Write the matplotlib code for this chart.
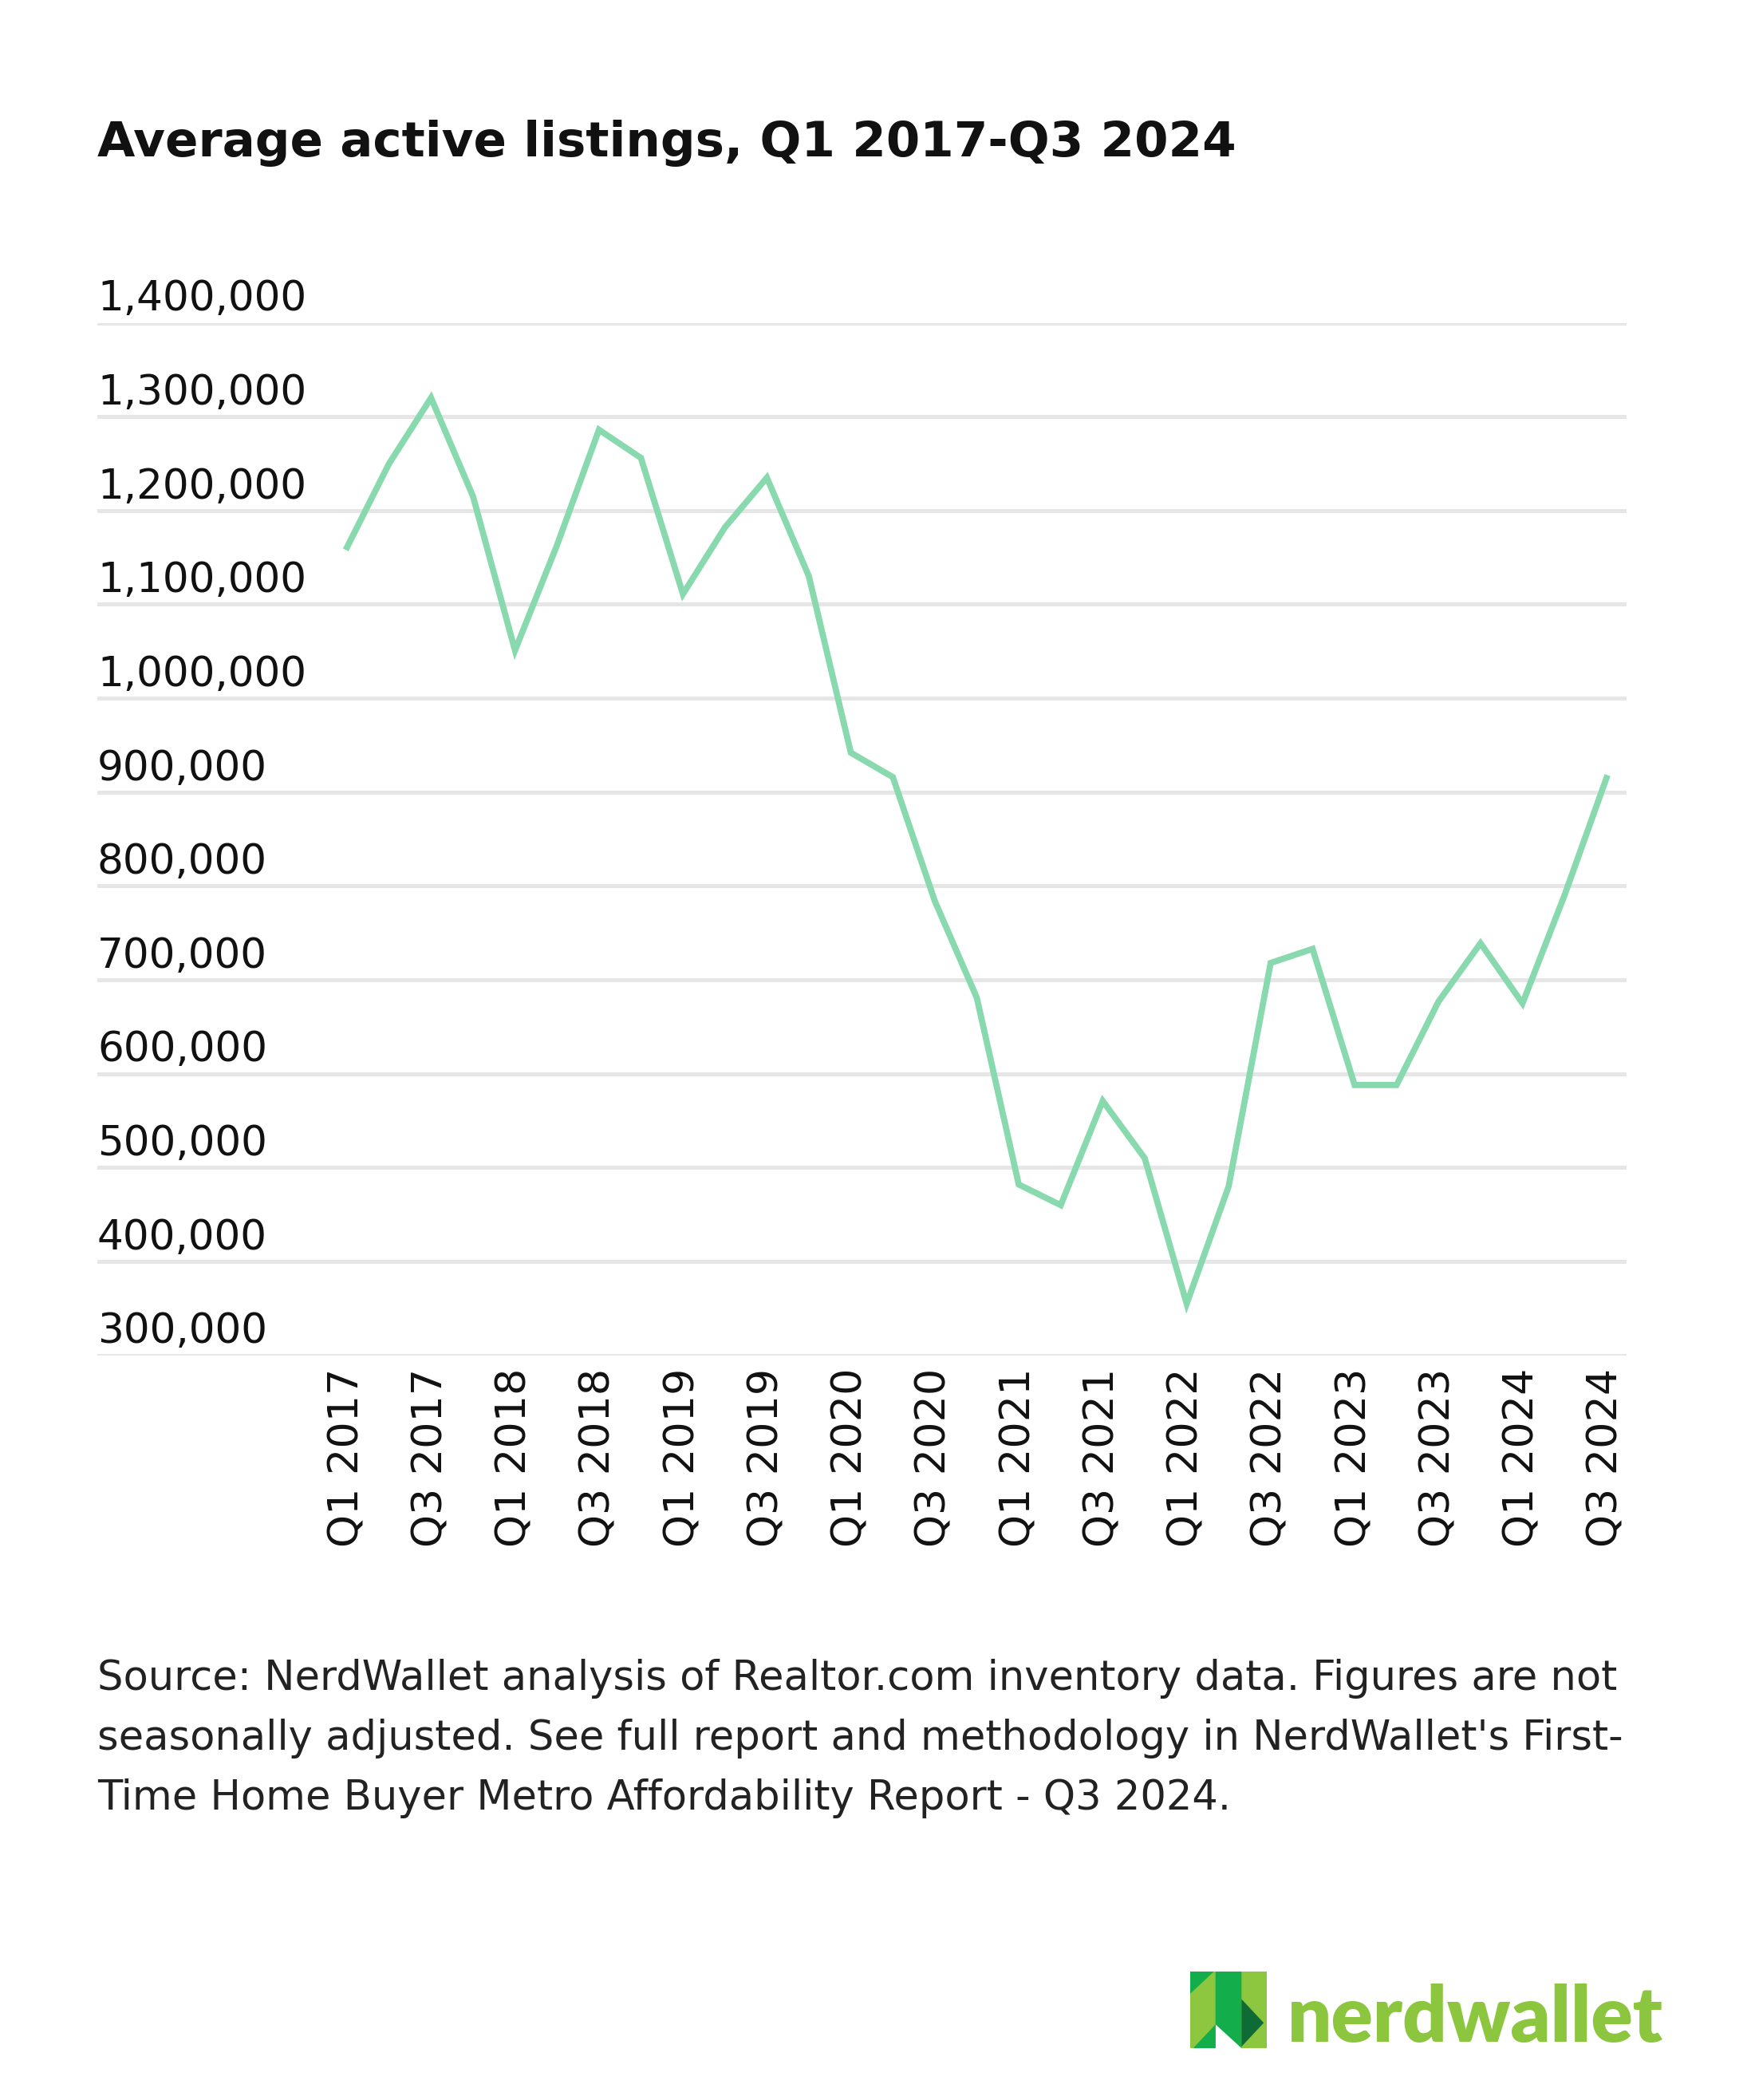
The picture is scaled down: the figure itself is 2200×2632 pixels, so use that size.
# plot.py - average active listings line chart
import matplotlib.pyplot as plt
from matplotlib.patches import Polygon
from matplotlib.transforms import blended_transform_factory

quarters = [
    "Q1 2017", "Q2 2017", "Q3 2017", "Q4 2017",
    "Q1 2018", "Q2 2018", "Q3 2018", "Q4 2018",
    "Q1 2019", "Q2 2019", "Q3 2019", "Q4 2019",
    "Q1 2020", "Q2 2020", "Q3 2020", "Q4 2020",
    "Q1 2021", "Q2 2021", "Q3 2021", "Q4 2021",
    "Q1 2022", "Q2 2022", "Q3 2022", "Q4 2022",
    "Q1 2023", "Q2 2023", "Q3 2023", "Q4 2023",
    "Q1 2024", "Q2 2024", "Q3 2024",
]
listings = [
    1161000, 1250000, 1320000, 1215000,
    1051000, 1163000, 1286000, 1256000,
    1111000, 1182000, 1235000, 1130000,
    942000, 916000, 784000, 681000,
    482000, 460000, 571000, 510000,
    355000, 480000, 718000, 733000,
    588000, 588000, 677000, 739000,
    675000, 790000, 915000,
]
y_ticks = [300000, 400000, 500000, 600000, 700000, 800000, 900000,
           1000000, 1100000, 1200000, 1300000, 1400000]

title = "Average active listings, Q1 2017-Q3 2024"
source_lines = [
    "Source: NerdWallet analysis of Realtor.com inventory data. Figures are not",
    "seasonally adjusted. See full report and methodology in NerdWallet's First-",
    "Time Home Buyer Metro Affordability Report - Q3 2024.",
]

LINE = "#88d9ad"
GRID = "#e6e6e6"
FONT = "DejaVu Sans"

fig = plt.figure(figsize=(11, 13.16), dpi=200)
ax = fig.add_axes([0.05545, 0.3546, 0.8714, 0.4917])

x = list(range(len(quarters)))
ax.plot(x, listings, color=LINE, linewidth=2.8, solid_joinstyle="miter", zorder=3)

ax.set_xlim(-5.95, 30.48)
ax.set_ylim(300000, 1400000)

# horizontal gridlines with the labels sitting on top of them
ax.set_yticks(y_ticks)
ax.set_yticklabels([])
ax.grid(axis="y", color=GRID, linewidth=1.8)
ax.set_axisbelow(True)
trans = blended_transform_factory(ax.transAxes, ax.transData)
for v in y_ticks:
    ax.annotate(f"{v:,}", xy=(0, v), xycoords=trans, xytext=(0, 5.5),
                textcoords="offset points", ha="left", va="baseline",
                fontsize=18.6, family=FONT, color="#111111", annotation_clip=False)

ax.set_xticks(x[::2])
ax.set_xticklabels(quarters[::2], rotation=90, va="top", ha="center",
                   fontsize=18.8, family=FONT, color="#111111")
ax.tick_params(axis="both", length=0)
ax.tick_params(axis="x", pad=5.8)
for s in ax.spines.values():
    s.set_visible(False)

fig.text(0.0555, 0.9255, title, fontsize=22, fontweight="bold", family=FONT,
         color="#111111", va="baseline", ha="left")

for i, line in enumerate(source_lines):
    fig.text(0.0555, 1 - (2118 + 75 * i) / 2632, line, fontsize=18.4, family=FONT,
             color="#222222", va="baseline", ha="left")

# nerdwallet logo
lax = fig.add_axes([1492 / 2200, 1 - 2567 / 2632, 96 / 2200, 96 / 2632])
lax.set_xlim(0, 1)
lax.set_ylim(1, 0)
lax.axis("off")
light, mid, dark = "#8dc63f", "#13ad4b", "#0f6b35"
shapes = [
    ([(0, 0), (0.33, 0), (0.33, 1), (0, 1)], light),
    ([(0.67, 0), (1, 0), (1, 1), (0.67, 1)], light),
    ([(0.33, 0), (0.67, 0), (0.67, 1), (0.33, 0.69)], mid),
    ([(0, 0), (0.31, 0), (0, 0.29)], mid),
    ([(0.04, 1), (0.33, 0.69), (0.33, 1)], mid),
    ([(0.67, 0.36), (0.96, 0.67), (0.67, 0.98)], dark),
]
for pts, c in shapes:
    lax.add_patch(Polygon(pts, closed=True, facecolor=c, edgecolor="none"))

fig.text(1614 / 2200, 1 - 2559 / 2632, "nerdwallet", fontsize=35, fontweight="heavy",
         family="Lato", color="#8cc63f", va="baseline", ha="left")

fig.savefig("out.png", dpi=200, facecolor="white")
